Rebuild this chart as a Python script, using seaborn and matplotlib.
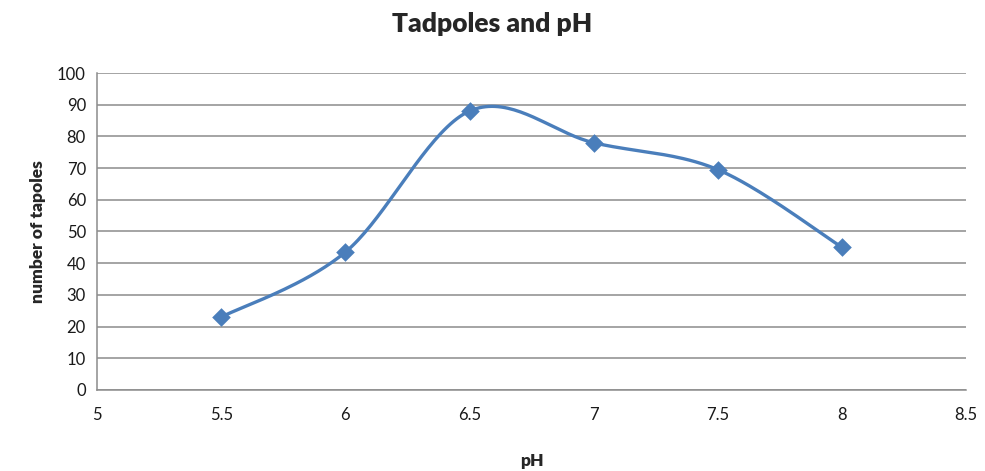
import numpy as np
import matplotlib.pyplot as plt
import seaborn as sns
import pandas as pd

# data
ph_values = [5.5, 6.0, 6.5, 7.0, 7.5, 8.0]
tadpole_counts = [23, 43.5, 88, 78, 69.5, 45]

x_ticks = [5, 5.5, 6, 6.5, 7, 7.5, 8, 8.5]
y_ticks = list(range(0, 101, 10))

LINE_COLOR = '#4a7ebb'
GRID_COLOR = '#8c8c8c'


def smooth_curve(xs, ys, steps=40):
    """Excel-style smoothed line (Catmull-Rom through the data points)."""
    p = np.column_stack([xs, ys]).astype(float)
    p = np.vstack([p[0], p, p[-1]])
    out = []
    t = np.linspace(0, 1, steps)[:, None]
    for i in range(1, len(p) - 2):
        p0, p1, p2, p3 = p[i - 1], p[i], p[i + 1], p[i + 2]
        c1 = p1 + (p2 - p0) / 6
        c2 = p2 - (p3 - p1) / 6
        seg = ((1 - t) ** 3) * p1 + 3 * ((1 - t) ** 2) * t * c1 + 3 * (1 - t) * t ** 2 * c2 + t ** 3 * p2
        out.append(seg)
    curve = np.vstack(out)
    return curve[:, 0], curve[:, 1]


sns.set_theme(style='white')
plt.rcParams['font.family'] = ['Lato', 'DejaVu Sans']

df = pd.DataFrame({'pH': ph_values, 'tadpoles': tadpole_counts})

fig = plt.figure(figsize=(9.85, 4.71), dpi=100)
ax = fig.add_axes([0.0985, 0.172, 0.8825, 0.673])

cx, cy = smooth_curve(df['pH'], df['tadpoles'])
ax.plot(cx, cy, color=LINE_COLOR, linewidth=2.4, zorder=3)
sns.scatterplot(data=df, x='pH', y='tadpoles', marker='D', s=90,
                color=LINE_COLOR, edgecolor=LINE_COLOR, linewidth=0, ax=ax, zorder=4)

ax.set_xlim(5, 8.5)
ax.set_ylim(0, 100)
ax.set_xticks(x_ticks)
ax.set_xticklabels([f'{v:g}' for v in x_ticks])
ax.set_yticks(y_ticks)

ax.yaxis.grid(True, color=GRID_COLOR, linewidth=1.1)
ax.xaxis.grid(False)
for side in ['top', 'right']:
    ax.spines[side].set_visible(False)
for side in ['left', 'bottom']:
    ax.spines[side].set_color(GRID_COLOR)
    ax.spines[side].set_linewidth(1.1)

ax.tick_params(axis='both', which='major', direction='out', length=5, width=1,
               color=GRID_COLOR, labelsize=12, labelcolor='#1a1a1a')
ax.tick_params(axis='x', pad=7)
ax.tick_params(axis='y', pad=3)

ax.set_xlabel('pH', fontsize=12.5, fontweight='heavy', labelpad=22)
ax.set_ylabel('number of tapoles', fontsize=12.5, fontweight='heavy', labelpad=8)
fig.suptitle('Tadpoles and pH', fontsize=19, fontweight='heavy', y=0.975)

fig.savefig('out.png', dpi=100)
